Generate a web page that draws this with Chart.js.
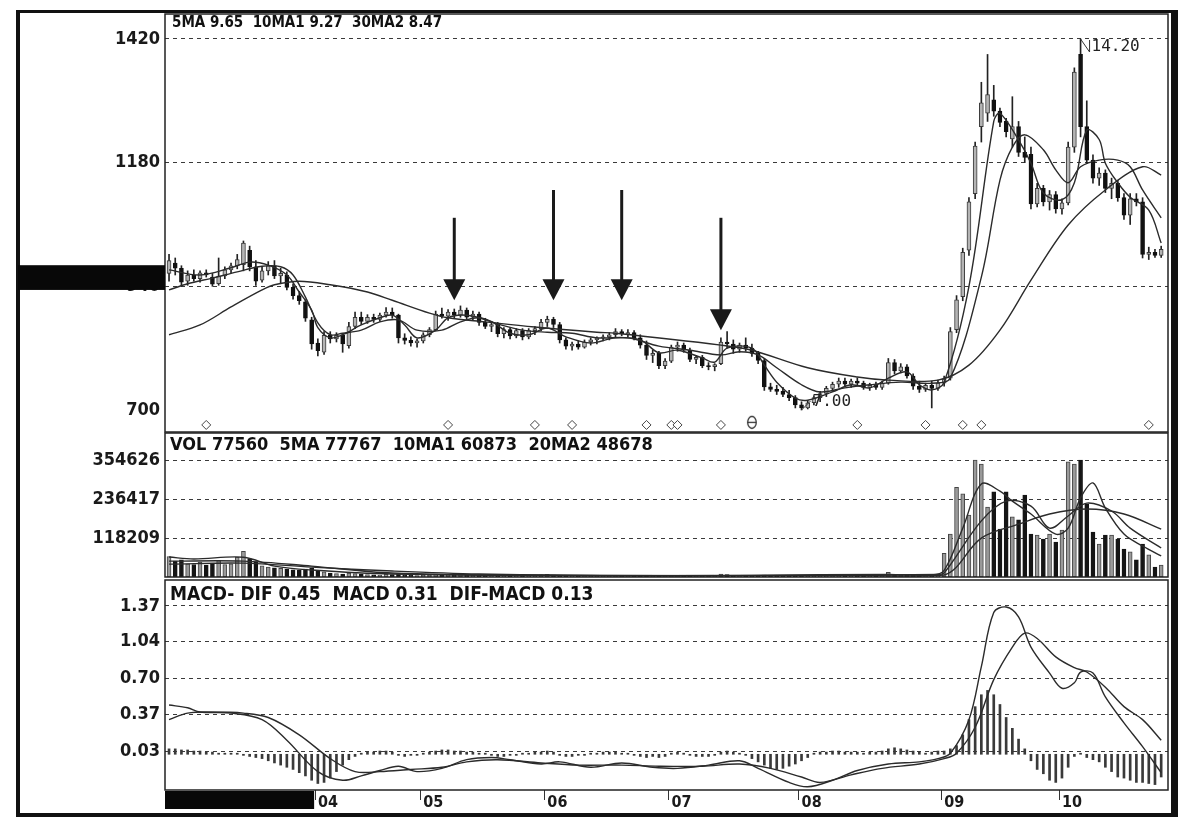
<!DOCTYPE html>
<html>
<head>
<meta charset="utf-8">
<script src="https://cdn.jsdelivr.net/npm/chart.js@4.4.1/dist/chart.umd.min.js"></script>
<style>
  body { margin: 0; background: #fff; width: 1196px; height: 838px; overflow: hidden; position: relative;
         font-family: "DejaVu Sans Condensed", "DejaVu Sans", sans-serif; }
  .frame { position: absolute; left: 16px; top: 10px; width: 1162px; height: 807px; box-sizing: border-box;
           border-style: solid; border-color: #111; border-width: 3px 7px 4px 4px; }
  .pane { position: absolute; left: 18px; width: 1152px; }
  .hdr { position: absolute; font-weight: bold; color: #111; white-space: pre; }
</style>
</head>
<body>
<div class="frame"></div>
<div class="pane" style="top:13px;height:420px"><canvas id="price"></canvas></div>
<div class="pane" style="top:432px;height:147px"><canvas id="vol"></canvas></div>
<div class="pane" style="top:579px;height:233px"><canvas id="macd"></canvas></div>
<div class="hdr" style="left:172px;top:13px;font-size:15px">5MA 9.65  10MA1 9.27  30MA2 8.47</div>
<div class="hdr" style="left:170px;top:433px;font-size:18px">VOL 77560  5MA 77767  10MA1 60873  20MA2 48678</div>
<div class="hdr" style="left:170px;top:582px;font-size:19px">MACD- DIF 0.45  MACD 0.31  DIF-MACD 0.13</div>
<script>
// daily candles (price shown x100 on the axis)
var opens = [
  9.65, 9.85, 9.75, 9.50, 9.62, 9.55, 9.66, 9.58, 9.45, 9.60,
  9.72, 9.80, 9.82, 10.10, 9.78, 9.52, 9.70, 9.80, 9.60, 9.62,
  9.38, 9.22, 9.10, 8.75, 8.30, 8.12, 8.45, 8.38, 8.45, 8.25,
  8.62, 8.80, 8.72, 8.80, 8.76, 8.84, 8.90, 8.84, 8.40, 8.35,
  8.30, 8.34, 8.46, 8.56, 8.86, 8.82, 8.90, 8.84, 8.94, 8.80,
  8.86, 8.70, 8.62, 8.66, 8.48, 8.56, 8.44, 8.54, 8.42, 8.54,
  8.58, 8.70, 8.76, 8.66, 8.36, 8.24, 8.28, 8.22, 8.32, 8.36,
  8.40, 8.42, 8.46, 8.52, 8.48, 8.50, 8.40, 8.26, 8.06, 8.10,
  7.86, 7.95, 8.22, 8.26, 8.16, 7.98, 8.02, 7.86, 7.84, 7.90,
  8.32, 8.28, 8.18, 8.26, 8.20, 8.10, 7.96, 7.45, 7.40, 7.36,
  7.30, 7.24, 7.10, 7.04, 7.14, 7.24, 7.32, 7.42, 7.50, 7.56,
  7.50, 7.56, 7.52, 7.44, 7.48, 7.44, 7.52, 7.92, 7.76, 7.84,
  7.66, 7.46, 7.40, 7.48, 7.42, 7.52, 7.62, 8.56, 9.20, 10.10,
  11.20, 12.50, 12.76, 13.02, 12.80, 12.60, 12.26, 12.50, 12.00, 11.96,
  11.00, 11.30, 11.04, 11.18, 10.90, 11.02, 12.10, 13.90, 12.50, 11.85,
  11.50, 11.60, 11.30, 11.40, 11.12, 10.78, 11.10, 11.04, 10.02, 10.06,
  10.00
];
var highs = [
  10.02, 9.95, 9.80, 9.70, 9.72, 9.70, 9.72, 9.65, 9.95, 9.78,
  9.85, 10.02, 10.28, 10.18, 9.90, 9.78, 9.88, 9.90, 9.75, 9.68,
  9.45, 9.30, 9.14, 8.80, 8.38, 8.52, 8.52, 8.50, 8.48, 8.70,
  8.90, 8.90, 8.85, 8.86, 8.88, 8.99, 8.98, 8.86, 8.48, 8.42,
  8.38, 8.50, 8.60, 8.92, 8.98, 8.95, 8.96, 9.02, 8.98, 8.92,
  8.90, 8.78, 8.72, 8.70, 8.60, 8.60, 8.58, 8.58, 8.58, 8.62,
  8.76, 8.82, 8.80, 8.70, 8.40, 8.32, 8.34, 8.36, 8.40, 8.42,
  8.46, 8.50, 8.58, 8.56, 8.56, 8.54, 8.46, 8.34, 8.16, 8.14,
  8.00, 8.26, 8.32, 8.30, 8.20, 8.06, 8.06, 7.92, 7.90, 8.40,
  8.52, 8.36, 8.30, 8.40, 8.28, 8.14, 8.00, 7.52, 7.48, 7.44,
  7.38, 7.28, 7.16, 7.18, 7.28, 7.36, 7.46, 7.54, 7.62, 7.62,
  7.60, 7.62, 7.56, 7.52, 7.54, 7.56, 8.00, 7.98, 7.90, 7.88,
  7.70, 7.56, 7.52, 7.56, 7.58, 7.66, 8.60, 9.22, 10.14, 11.12,
  12.20, 13.36, 13.90, 13.30, 12.86, 12.66, 13.08, 12.60, 12.30, 12.10,
  11.40, 11.36, 11.26, 11.24, 11.10, 12.20, 13.64, 14.20, 13.00, 11.95,
  11.70, 11.66, 11.50, 11.46, 11.20, 11.20, 11.20, 11.12, 10.16, 10.12,
  10.18
];
var lows = [
  9.50, 9.62, 9.40, 9.42, 9.50, 9.48, 9.58, 9.40, 9.42, 9.55,
  9.66, 9.74, 9.70, 9.70, 9.42, 9.48, 9.62, 9.55, 9.45, 9.33,
  9.15, 9.05, 8.72, 8.18, 8.05, 8.08, 8.30, 8.32, 8.12, 8.20,
  8.58, 8.66, 8.68, 8.70, 8.72, 8.80, 8.78, 8.30, 8.28, 8.24,
  8.22, 8.30, 8.42, 8.54, 8.78, 8.74, 8.78, 8.80, 8.76, 8.74,
  8.64, 8.58, 8.52, 8.42, 8.40, 8.38, 8.40, 8.36, 8.38, 8.46,
  8.54, 8.62, 8.60, 8.30, 8.18, 8.16, 8.18, 8.20, 8.26, 8.28,
  8.34, 8.36, 8.42, 8.44, 8.42, 8.36, 8.20, 7.98, 7.92, 7.80,
  7.80, 7.92, 8.14, 8.12, 7.94, 7.90, 7.82, 7.78, 7.76, 7.88,
  8.20, 8.10, 8.12, 8.14, 8.04, 7.90, 7.38, 7.36, 7.30, 7.26,
  7.18, 7.04, 7.00, 7.02, 7.10, 7.16, 7.26, 7.36, 7.44, 7.46,
  7.44, 7.48, 7.40, 7.38, 7.40, 7.40, 7.50, 7.70, 7.72, 7.62,
  7.40, 7.34, 7.36, 7.04, 7.38, 7.46, 7.58, 8.50, 9.12, 10.00,
  11.10, 12.20, 12.60, 12.70, 12.50, 12.30, 12.10, 11.92, 11.80, 10.90,
  10.94, 10.96, 10.88, 10.82, 10.80, 10.98, 12.00, 12.30, 11.78, 11.40,
  11.36, 11.22, 11.10, 11.05, 10.70, 10.60, 10.96, 9.95, 9.92, 9.96,
  9.96
];
var closes = [
  9.90, 9.75, 9.48, 9.62, 9.55, 9.66, 9.62, 9.44, 9.60, 9.72,
  9.80, 9.92, 10.24, 9.78, 9.50, 9.70, 9.80, 9.60, 9.65, 9.38,
  9.22, 9.12, 8.78, 8.28, 8.15, 8.45, 8.38, 8.45, 8.28, 8.62,
  8.80, 8.72, 8.80, 8.76, 8.84, 8.90, 8.84, 8.40, 8.35, 8.30,
  8.34, 8.46, 8.56, 8.86, 8.82, 8.90, 8.84, 8.94, 8.80, 8.86,
  8.70, 8.62, 8.66, 8.48, 8.56, 8.44, 8.54, 8.42, 8.54, 8.58,
  8.70, 8.76, 8.66, 8.36, 8.24, 8.28, 8.22, 8.32, 8.36, 8.40,
  8.42, 8.46, 8.52, 8.48, 8.50, 8.40, 8.26, 8.06, 8.10, 7.86,
  7.95, 8.22, 8.26, 8.16, 7.98, 8.02, 7.86, 7.84, 7.88, 8.32,
  8.28, 8.18, 8.26, 8.20, 8.10, 7.96, 7.45, 7.40, 7.36, 7.30,
  7.24, 7.10, 7.04, 7.14, 7.24, 7.32, 7.42, 7.50, 7.56, 7.50,
  7.56, 7.52, 7.44, 7.48, 7.44, 7.52, 7.92, 7.76, 7.84, 7.66,
  7.46, 7.40, 7.48, 7.42, 7.52, 7.60, 8.52, 9.14, 10.06, 11.04,
  12.12, 12.96, 13.12, 12.80, 12.58, 12.40, 12.50, 12.00, 11.90, 11.00,
  11.30, 11.04, 11.18, 10.90, 11.02, 12.10, 13.56, 12.50, 11.85, 11.50,
  11.60, 11.30, 11.40, 11.12, 10.78, 11.10, 11.04, 10.02, 10.06, 10.00,
  10.12
];
var volumes = [
  62000, 48000, 52000, 40000, 38000, 45000, 36000, 42000, 50000, 38000,
  40000, 60000, 78000, 55000, 46000, 34000, 30000, 28000, 26000, 24000,
  22000, 20000, 24000, 26000, 18000, 16000, 12000, 10000, 9000, 12000,
  10000, 8000, 7000, 6500, 6000, 9000, 7000, 8000, 6000, 5000,
  4500, 5000, 6000, 9000, 7000, 8000, 6000, 7000, 5500, 5000,
  4500, 4000, 4500, 5000, 4000, 3500, 4000, 3500, 4000, 5000,
  6500, 8000, 6000, 5000, 4000, 3500, 3000, 3500, 3000, 3000,
  3500, 4000, 5000, 4000, 3500, 3000, 3500, 4000, 3000, 4500,
  3500, 5000, 4000, 3000, 3000, 2500, 3000, 2500, 3000, 9000,
  7000, 5000, 4000, 3500, 3000, 3500, 6000, 4000, 3000, 3000,
  2500, 3000, 3500, 3000, 3000, 3500, 4000, 4500, 4000, 3500,
  3000, 3000, 2500, 2500, 2500, 3000, 14000, 8000, 6000, 5000,
  6000, 4000, 3500, 5000, 4000, 72000, 130000, 272000, 252000, 188000,
  354626, 342000, 212000, 258000, 145000, 258000, 182000, 173000, 248000, 130000,
  127000, 115000, 130000, 106000, 142000, 349000, 342000, 354626, 221000, 136000,
  100000, 127000, 127000, 115000, 85000, 76000, 52000, 100000, 67000, 30000,
  36000
];
var macdHist = [
  0.05, 0.05, 0.04, 0.04, 0.03, 0.03, 0.02, 0.02, 0.01, 0.01,
  0.01, 0.01, -0.01, -0.02, -0.03, -0.04, -0.06, -0.08, -0.10, -0.12,
  -0.14, -0.17, -0.20, -0.24, -0.27, -0.26, -0.22, -0.16, -0.10, -0.05,
  -0.02, 0.01, 0.02, 0.02, 0.03, 0.03, 0.02, -0.01, -0.02, -0.01,
  -0.01, 0.01, 0.02, 0.03, 0.04, 0.04, 0.03, 0.03, 0.02, 0.02,
  0.01, 0.01, -0.01, -0.02, -0.02, -0.01, -0.01, 0.01, 0.01, 0.02,
  0.02, 0.03, 0.02, -0.01, -0.02, -0.02, -0.01, -0.01, 0.01, 0.01,
  0.02, 0.02, 0.02, 0.01, 0.01, -0.01, -0.02, -0.03, -0.02, -0.03,
  -0.02, 0.01, 0.02, 0.01, -0.01, -0.02, -0.02, -0.02, -0.01, 0.02,
  0.03, 0.02, 0.01, -0.01, -0.04, -0.07, -0.10, -0.13, -0.14, -0.13,
  -0.11, -0.09, -0.06, -0.03, 0.01, 0.02, 0.02, 0.03, 0.03, 0.02,
  0.02, 0.02, 0.01, 0.02, 0.02, 0.03, 0.05, 0.06, 0.05, 0.04,
  0.03, 0.02, 0.01, 0.02, 0.03, 0.03, 0.05, 0.08, 0.18, 0.32,
  0.44, 0.55, 0.59, 0.55, 0.46, 0.34, 0.24, 0.14, 0.05, -0.06,
  -0.14, -0.18, -0.24, -0.26, -0.22, -0.12, -0.02, 0.01, -0.03, -0.05,
  -0.07, -0.12, -0.16, -0.21, -0.22, -0.24, -0.26, -0.26, -0.27, -0.28,
  -0.21
];

// indicator lines, read at the days where they could be seen
var ma5Day = [0, 5, 10, 13, 16, 19, 21, 23, 24, 26, 28, 31, 34, 36, 38, 40, 43, 45, 48, 52, 55, 58, 61, 64, 68, 72, 76, 79, 82, 86, 88, 90, 94, 96, 98, 101, 103, 107, 110, 113, 116, 119, 121, 123, 125, 129, 133, 134, 137, 139, 141, 144, 146, 148, 150, 151, 153, 155, 158, 160];
var ma5Val = [9.72, 9.62, 9.76, 9.87, 9.81, 9.62, 9.29, 8.94, 8.60, 8.40, 8.46, 8.65, 8.79, 8.84, 8.65, 8.40, 8.55, 8.79, 8.84, 8.71, 8.49, 8.46, 8.59, 8.42, 8.30, 8.40, 8.36, 8.11, 8.16, 8.01, 7.93, 8.20, 8.20, 7.87, 7.54, 7.23, 7.19, 7.35, 7.49, 7.43, 7.62, 7.74, 7.49, 7.39, 7.54, 9.40, 12.60, 12.76, 12.24, 11.79, 11.21, 11.08, 11.41, 12.43, 12.25, 11.79, 11.41, 11.13, 10.88, 10.24];
var ma10Day = [0, 3, 7, 11, 15, 18, 20, 22, 24, 26, 28, 31, 34, 37, 40, 44, 47, 50, 53, 57, 61, 65, 69, 74, 79, 84, 89, 92, 95, 98, 102, 105, 109, 113, 118, 123, 126, 131, 134, 136, 138, 141, 143, 145, 147, 150, 153, 155, 157, 160];
var ma10Val = [9.33, 9.45, 9.56, 9.68, 9.79, 9.78, 9.62, 9.19, 8.69, 8.46, 8.49, 8.55, 8.71, 8.75, 8.55, 8.55, 8.71, 8.79, 8.67, 8.55, 8.51, 8.49, 8.40, 8.40, 8.24, 8.16, 8.07, 8.13, 8.07, 7.82, 7.49, 7.35, 7.43, 7.49, 7.54, 7.52, 7.62, 9.58, 11.46, 12.10, 12.34, 12.05, 11.66, 11.41, 11.72, 11.85, 11.85, 11.72, 11.27, 10.73];
var ma30Day = [0, 5, 10, 15, 17, 21, 26, 32, 36, 42, 45, 51, 59, 69, 72, 89, 94, 103, 111, 116, 124, 129, 134, 139, 145, 151, 157, 160];
var ma30Val = [8.46, 8.65, 9.00, 9.33, 9.43, 9.50, 9.43, 9.29, 9.13, 8.88, 8.79, 8.71, 8.61, 8.51, 8.49, 8.26, 8.16, 7.82, 7.64, 7.58, 7.58, 7.87, 8.55, 9.52, 10.59, 11.27, 11.72, 11.56];

var vma5Day = [0, 4, 12, 17, 23, 36, 70, 94, 116, 123, 125, 128, 131, 134, 136, 139, 143, 145, 147, 149, 151, 154, 157, 160];
var vma5Val = [60600, 54500, 60000, 33000, 21000, 9000, 4000, 5000, 8000, 6000, 20000, 148000, 282000, 260000, 230000, 191000, 130000, 148000, 240000, 285000, 209000, 130000, 94000, 64000];
var vma10Day = [0, 12, 23, 36, 60, 100, 124, 125, 131, 135, 139, 142, 145, 148, 152, 155, 160];
var vma10Val = [48000, 48000, 33000, 12000, 5000, 4500, 8000, 12000, 170000, 230000, 215000, 148000, 185000, 224000, 200000, 148000, 88000];
var vma20Day = [0, 12, 23, 36, 50, 70, 110, 125, 131, 137, 142, 148, 154, 160];
var vma20Val = [39000, 42000, 30000, 18000, 9000, 5000, 4500, 6000, 118000, 160000, 191000, 206000, 191000, 145000];

var difDay = [0, 3, 5, 10, 15, 19, 24, 28, 31, 34, 37, 40, 44, 48, 52, 55, 60, 63, 68, 73, 78, 82, 87, 92, 95, 100, 103, 107, 111, 116, 121, 124, 126, 129, 131, 133, 135, 137, 139, 142, 144, 146, 147, 149, 151, 154, 157, 160];
var difVal = [0.455, 0.43, 0.39, 0.38, 0.32, 0.13, -0.16, -0.24, -0.20, -0.15, -0.11, -0.16, -0.13, -0.05, -0.03, -0.05, -0.09, -0.07, -0.12, -0.08, -0.12, -0.13, -0.10, -0.06, -0.13, -0.26, -0.30, -0.24, -0.15, -0.09, -0.07, -0.04, 0.01, 0.32, 0.81, 1.31, 1.36, 1.27, 0.99, 0.75, 0.61, 0.66, 0.76, 0.75, 0.53, 0.29, 0.07, -0.17];
var deaDay = [0, 3, 7, 12, 16, 21, 26, 30, 34, 39, 44, 48, 53, 60, 66, 73, 79, 86, 92, 97, 102, 105, 110, 115, 121, 125, 127, 130, 133, 136, 138, 140, 143, 146, 148, 151, 154, 157, 160];
var deaVal = [0.32, 0.38, 0.39, 0.38, 0.34, 0.18, -0.04, -0.16, -0.16, -0.14, -0.12, -0.07, -0.05, -0.08, -0.10, -0.10, -0.11, -0.11, -0.09, -0.13, -0.21, -0.26, -0.19, -0.13, -0.09, -0.04, 0.01, 0.25, 0.69, 0.99, 1.12, 1.07, 0.90, 0.80, 0.76, 0.62, 0.44, 0.32, 0.13];

// axes
var priceTicks = [7.00, 9.40, 11.80, 14.20];
var volTicks = [118209, 236417, 354626];
var macdTicks = [0.03, 0.37, 0.70, 1.04, 1.37];
var monthFirstDay = [24, 41, 61, 81, 102, 125, 144];
var monthLabels = ['04', '05', '06', '07', '08', '09', '10'];

// marks under the candles and the hand-drawn arrows
var markerDay = [6, 45, 59, 65, 77, 81, 82, 89, 111, 122, 128, 131, 158];
var thetaDay = [94];
var arrowDay = [46, 62, 73, 89];
var arrowFrom = [10.73, 11.27, 11.27, 10.73];
var arrowTo = [9.13, 9.13, 9.13, 8.55];
var highDay = 147;
var lowDay = 102;

var FONT = '"DejaVu Sans Condensed", "DejaVu Sans", sans-serif';
var X_MIN = -0.65, X_MAX = 161.1;
var INK = '#1a1a1a';

function pts(xs, ys) { return xs.map(function (x, k) { return {x: x, y: ys[k]}; }); }
function up(i) { return closes[i] >= opens[i]; }
var days = closes.map(function (c, i) { return i; });

// small theta-like glyph used as a point style
var thetaGlyph = document.createElement('canvas');
thetaGlyph.width = 12; thetaGlyph.height = 15;
(function () {
  var g = thetaGlyph.getContext('2d');
  g.strokeStyle = '#333'; g.lineWidth = 1.3;
  g.beginPath(); g.ellipse(6, 7.5, 4.3, 6, 0, 0, Math.PI * 2); g.stroke();
  g.beginPath(); g.moveTo(2, 7.5); g.lineTo(10, 7.5); g.stroke();
})();

function lineSet(xs, ys) {
  return { type: 'line', data: pts(xs, ys), borderColor: '#2b2b2b', borderWidth: 1.4,
           pointRadius: 0, tension: 0.35, fill: false };
}

function xAxis(show) {
  return {
    type: 'linear', min: X_MIN, max: X_MAX, offset: false, display: show,
    afterBuildTicks: function (s) { s.ticks = monthFirstDay.map(function (d) { return {value: d - 0.45}; }); },
    afterFit: function (s) { s.height = show ? 22 : 0; s.paddingLeft = 0; s.paddingRight = 0; },
    ticks: { autoSkip: false, maxRotation: 0, align: 'start', padding: -7, color: INK,
             font: {family: FONT, size: 16, weight: 'bold'},
             callback: function (v, k) { return '\u2009' + monthLabels[k]; } },
    grid: { offset: false, drawOnChartArea: false, drawTicks: true, tickLength: 10, color: '#333', lineWidth: 1 },
    border: { display: false }
  };
}

function yAxis(min, max, ticks, fmt, hideAt) {
  return {
    position: 'left', min: min, max: max,
    afterBuildTicks: function (s) { s.ticks = ticks.map(function (v) { return {value: v}; }); },
    afterFit: function (s) { s.width = 147; s.paddingTop = 0; s.paddingBottom = 0; },
    ticks: { autoSkip: false, padding: 5, color: INK, font: {family: FONT, size: 18, weight: 'bold'}, callback: fmt },
    grid: { drawTicks: false, lineWidth: 1,
            color: function (c) { return (c.tick && c.tick.value === hideAt) ? 'rgba(0,0,0,0)' : '#3a3a3a'; } },
    border: { display: false, dash: [4, 4] }
  };
}

var framePlugin = {
  id: 'frame',
  afterDraw: function (chart) {
    var a = chart.chartArea, ctx = chart.ctx;
    ctx.save();
    ctx.strokeStyle = '#222';
    ctx.lineWidth = 1.5;
    ctx.strokeRect(a.left, a.top, a.right - a.left, a.bottom - a.top);
    ctx.restore();
  }
};

function baseOptions(padding, xCfg, yCfg) {
  return {
    responsive: true, maintainAspectRatio: false, animation: false, events: [],
    layout: { padding: padding, autoPadding: false },
    plugins: { legend: {display: false}, tooltip: {enabled: false} },
    scales: { x: xCfg, y: yCfg }
  };
}

// price pane
var priceDecor = {
  id: 'priceDecor',
  afterDraw: function (chart) {
    var ctx = chart.ctx, a = chart.chartArea, x = chart.scales.x, y = chart.scales.y;
    ctx.save();
    // dark band over the axis labels
    var bt = y.getPixelForValue(9.81), bb = y.getPixelForValue(9.33);
    ctx.fillStyle = '#080808';
    ctx.fillRect(0, bt, a.left, bb - bt);
    // arrows
    ctx.fillStyle = INK;
    ctx.strokeStyle = INK;
    arrowDay.forEach(function (d, k) {
      var px = x.getPixelForValue(d), y0 = y.getPixelForValue(arrowFrom[k]), y1 = y.getPixelForValue(arrowTo[k]);
      ctx.lineWidth = 3;
      ctx.beginPath(); ctx.moveTo(px, y0); ctx.lineTo(px, y1 - 18); ctx.stroke();
      ctx.beginPath(); ctx.moveTo(px - 11, y1 - 21); ctx.lineTo(px + 11, y1 - 21); ctx.lineTo(px, y1); ctx.closePath(); ctx.fill();
    });
    // high / low labels
    ctx.lineWidth = 1;
    ctx.strokeStyle = '#333';
    ctx.fillStyle = '#222';
    ctx.font = '16px "DejaVu Sans Mono", monospace';
    ctx.textAlign = 'left';
    ctx.textBaseline = 'middle';
    var hx = x.getPixelForValue(highDay), hy = y.getPixelForValue(highs[highDay]);
    ctx.beginPath(); ctx.moveTo(hx, hy); ctx.lineTo(hx + 9, hy + 13); ctx.lineTo(hx + 9, hy + 1); ctx.stroke();
    ctx.fillText(highs[highDay].toFixed(2), hx + 11, hy + 8);
    var lx = x.getPixelForValue(lowDay), ly = y.getPixelForValue(lows[lowDay]);
    ctx.beginPath(); ctx.moveTo(lx, ly); ctx.lineTo(lx + 9, ly - 9); ctx.stroke();
    ctx.fillText(lows[lowDay].toFixed(2), lx + 11, ly - 8);
    ctx.restore();
  }
};

new Chart(document.getElementById('price'), {
  type: 'bar',
  data: {
    datasets: [
      lineSet(ma5Day, ma5Val),
      lineSet(ma10Day, ma10Val),
      lineSet(ma30Day, ma30Val),
      { type: 'line', showLine: false, data: markerDay.map(function (d) { return {x: d, y: 6.71}; }),
        pointStyle: 'rectRot', pointRadius: 4.5, backgroundColor: '#fff', borderColor: '#444', borderWidth: 1 },
      { type: 'line', showLine: false, data: thetaDay.map(function (d) { return {x: d, y: 6.76}; }),
        pointStyle: thetaGlyph, pointRadius: 6 },
      { type: 'bar', grouped: false, barThickness: 4, minBarLength: 1, borderWidth: 1, borderSkipped: false,
        data: days.map(function (i) { return {x: i, y: [opens[i], closes[i]]}; }),
        backgroundColor: days.map(function (i) { return up(i) ? '#b4b4b4' : '#111'; }),
        borderColor: days.map(function (i) { return up(i) ? '#3a3a3a' : '#111'; }) },
      { type: 'bar', grouped: false, barThickness: 1, borderWidth: 0,
        data: days.map(function (i) { return {x: i, y: [lows[i], highs[i]]}; }),
        backgroundColor: '#222' }
    ]
  },
  options: baseOptions({top: 1, bottom: 1, left: 0, right: 2}, xAxis(false),
    yAxis(6.573, 14.685, priceTicks, function (v) { return String(Math.round(v * 100)); }, 7.00)),
  plugins: [framePlugin, priceDecor]
});

// volume pane
new Chart(document.getElementById('vol'), {
  type: 'bar',
  data: {
    datasets: [
      lineSet(vma5Day, vma5Val),
      lineSet(vma10Day, vma10Val),
      lineSet(vma20Day, vma20Val),
      { type: 'bar', grouped: false, barThickness: 4, borderWidth: 1, borderSkipped: false,
        data: days.map(function (i) { return {x: i, y: volumes[i]}; }),
        backgroundColor: days.map(function (i) { return up(i) ? '#9a9a9a' : '#151515'; }),
        borderColor: days.map(function (i) { return up(i) ? '#444' : '#151515'; }) }
    ]
  },
  options: baseOptions({top: 1, bottom: 2, left: 0, right: 2}, xAxis(false),
    yAxis(0, 436466, volTicks, function (v) { return String(v); }, null)),
  plugins: [framePlugin]
});

// MACD pane
var axisBlock = {
  id: 'axisBlock',
  afterDraw: function (chart) {
    var ctx = chart.ctx, a = chart.chartArea, x = chart.scales.x;
    ctx.save();
    ctx.fillStyle = '#080808';
    ctx.fillRect(a.left, a.bottom + 1, x.getPixelForValue(monthFirstDay[0] - 0.6) - a.left, 18);
    ctx.restore();
  }
};

new Chart(document.getElementById('macd'), {
  type: 'bar',
  data: {
    datasets: [
      lineSet(difDay, difVal),
      lineSet(deaDay, deaVal),
      { type: 'bar', grouped: false, barThickness: 2, borderWidth: 0,
        data: days.map(function (i) { return {x: i, y: macdHist[i]}; }),
        backgroundColor: '#3a3a3a' }
    ]
  },
  options: baseOptions({top: 1, bottom: 0, left: 0, right: 2}, xAxis(true),
    yAxis(-0.33, 1.61, macdTicks, function (v) { return v.toFixed(2); }, null)),
  plugins: [framePlugin, axisBlock]
});
</script>
</body>
</html>
